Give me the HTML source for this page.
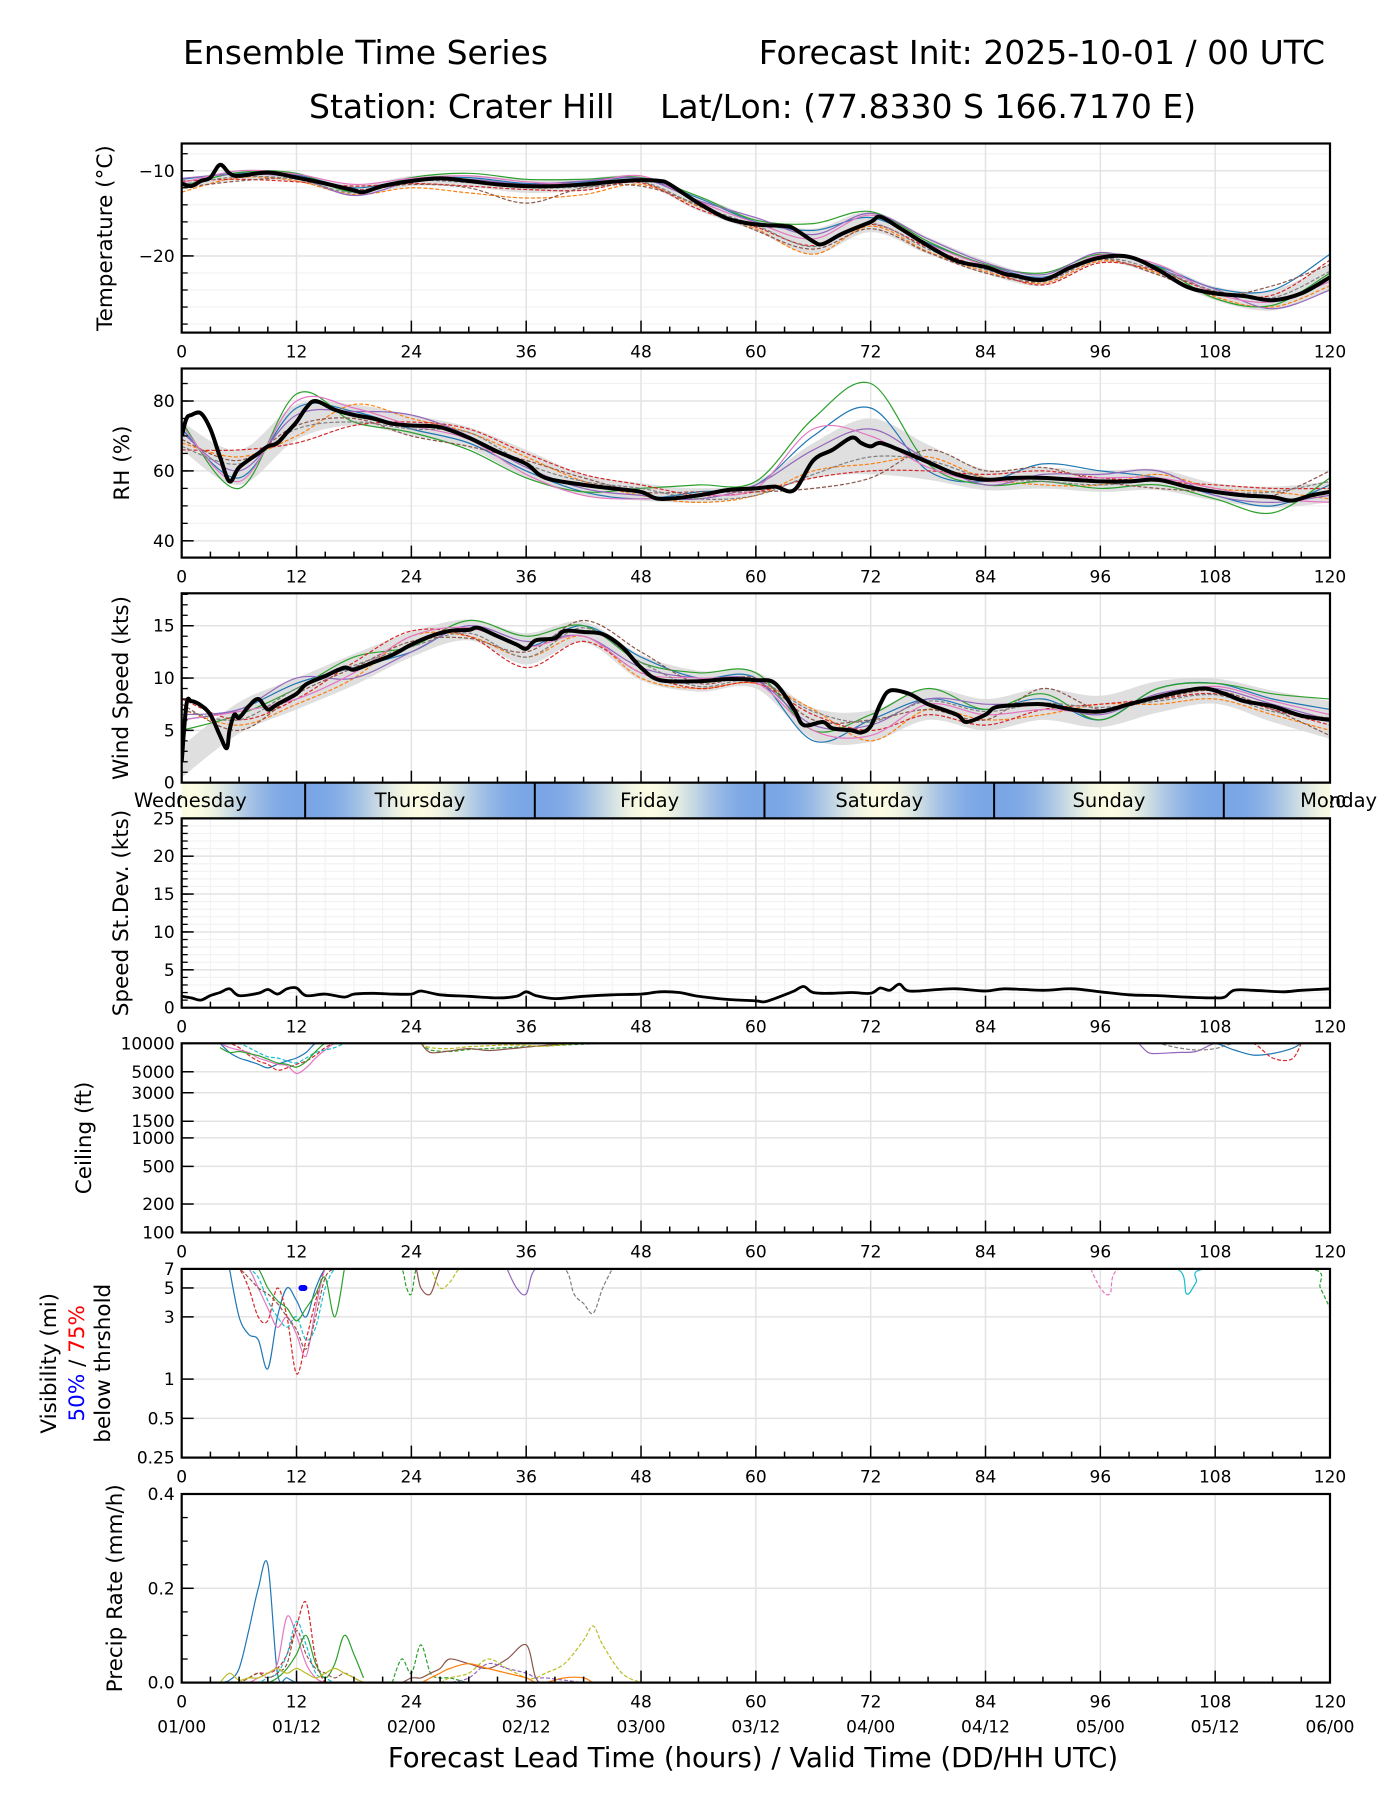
<!DOCTYPE html>
<html><head><meta charset="utf-8"><title>Ensemble Time Series</title>
<style>
html,body{margin:0;padding:0;background:#fff;}
svg{display:block;font-family:"DejaVu Sans","Liberation Sans",sans-serif;}
</style></head>
<body>
<svg id="chart" width="1400" height="1800" viewBox="0 0 1400 1800" xmlns="http://www.w3.org/2000/svg">
<text x="183" y="64" font-size="33">Ensemble Time Series</text>
<text x="1325" y="64" font-size="33" text-anchor="end">Forecast Init: 2025-10-01 / 00 UTC</text>
<text x="309" y="118" font-size="33">Station: Crater Hill</text>
<text x="660" y="118" font-size="33">Lat/Lon: (77.8330 S 166.7170 E)</text>
<text x="753" y="1767" font-size="27.5" text-anchor="middle">Forecast Lead Time (hours) / Valid Time (DD/HH UTC)</text>
</svg>
<script>
// ---------- data ----------
const xTickHours = [0,12,24,36,48,60,72,84,96,108,120];
const dateLabels = ["01/00","01/12","02/00","02/12","03/00","03/12","04/00","04/12","05/00","05/12","06/00"];
const dayNames = ["Wednesday","Thursday","Friday","Saturday","Sunday","Monday"];
const dayBoundaryHours = [12.9,36.9,60.9,84.9,108.9];
const memberColors = ["#1f77b4","#ff7f0e","#2ca02c","#d62728","#9467bd","#8c564b","#e377c2","#7f7f7f","#bcbd22","#17becf"];

const hours6 = [0,6,12,18,24,30,36,42,48,54,60,66,72,78,84,90,96,102,108,114,120];

const tempMeanT = [0,1,2,3,4,5,6,9,12,15,18,19,21,24,27,30,33,36,39,42,45,48,50,51,54,57,60,63,64,66,67,69,72,73,75,78,81,84,86,87,90,93,96,99,102,105,108,111,114,117,120];
const tempMeanV = [-11.5,-11.8,-11.2,-10.8,-9.3,-10.3,-10.6,-10.2,-10.8,-11.5,-12.3,-12.5,-11.8,-11.2,-10.9,-11.2,-11.6,-11.8,-11.8,-11.6,-11.3,-11.1,-11.2,-11.6,-13.8,-15.6,-16.3,-16.5,-16.8,-18.3,-18.6,-17.4,-16.0,-15.4,-16.7,-18.8,-20.6,-21.3,-22.1,-22.3,-22.8,-21.3,-20.2,-20.1,-21.6,-23.6,-24.4,-24.7,-25.2,-24.4,-22.5];
const tempSpread = [0.6,0.5,0.5,0.6,0.6,0.7,0.8,0.7,0.5,0.9,0.8,1.5,1.2,1.0,0.8,0.7,0.6,0.7,0.8,1.2,1.6];
const tempMembers = [
 [-11,-10.3,-10.5,-12,-11,-10.8,-11.5,-11.3,-10.9,-13.2,-16,-17,-15.5,-18.5,-21,-22.5,-20,-21.2,-23.8,-24,-19.8],
 [-12.5,-10.8,-11.2,-12.8,-12,-12.6,-13.2,-12.8,-11.6,-14.2,-16.8,-19.8,-16.5,-19.5,-21.8,-23.2,-20.6,-22,-24.8,-26,-23.5],
 [-11.8,-10.2,-10.3,-12.5,-10.8,-10.3,-11,-11,-10.8,-13,-15.8,-16.2,-14.8,-18.3,-21,-22,-19.8,-21.3,-25,-25.8,-22],
 [-11.2,-11,-11.3,-11.8,-11.5,-11.8,-12.2,-12.3,-11.4,-14.5,-16.6,-18.8,-16.3,-19,-21.5,-23.4,-20.8,-21.8,-24.2,-24.6,-20.5],
 [-10.9,-10.4,-10.8,-12.9,-11.3,-11,-11.6,-11.2,-10.9,-13.5,-15.5,-17.5,-15,-18,-20.8,-22.2,-19.6,-21.5,-23.9,-26.2,-24],
 [-12,-11.2,-10.9,-12.2,-11.6,-12,-13.8,-12,-11.8,-14,-17,-19.2,-16.8,-19.6,-22,-23,-20.4,-22.2,-24.6,-23.5,-21],
 [-11.4,-10,-10.4,-11.6,-10.9,-10.6,-11.3,-11.5,-10.6,-13.6,-16.1,-18,-15.2,-18.6,-21.1,-22.6,-19.9,-21,-24.4,-25.4,-23],
 [-11.6,-10.7,-11,-12.6,-11.2,-11.4,-12,-11.9,-11.3,-14.1,-16.4,-18.9,-16.2,-19.2,-21.6,-22.9,-20.3,-21.7,-24.1,-24.9,-21.8]
];

const rhMeanT = [0,0.5,1,2,3,4,5,6,8,9,10,11,12,13,14,16,18,20,22,24,27,30,33,36,38,42,45,48,50,54,57,60,62,64,66,68,70,71,72,73,75,78,81,84,87,90,93,96,99,102,105,108,111,114,116,118,120];
const rhMeanV = [70,75,76,76.5,72,64,57,61,65,67,68,71,74,78,80,77.5,76,75,73.5,73,72.5,69.5,65.5,62,58,56,55,54,52,53,54.5,55,55.5,54.5,63,66,69.5,68,67,68,66,62.5,59,57.5,58,58,57.5,57,57,57.5,55.5,54,53,52.5,51.5,53,54];
const rhSpread = [4,5,5,3,3,3,4,3,2.5,2,2,5,8,5,3,3,3,3,2.5,3,3];
const rhMembers = [
 [72,58,78,77,72,68,60,54,52,54,56,70,78,60,57,62,60,58,53,50,56],
 [68,64,70,79,75,71,64,57,53,51,53,60,62,64,58,56,56,59,55,54,52],
 [74,55,82,74,71,66,58,54,55,56,57,75,85,62,56,57,55,56,52,48,58],
 [66,66,68,73,74,72,65,59,56,53,54,58,60,60,59,60,58,57,56,55,55],
 [71,60,76,77,76,70,61,55,53,52,56,66,72,63,56,59,59,60,53,51,53],
 [69,63,73,75,70,67,63,58,54,54,54,55,58,66,60,61,57,55,54,53,60],
 [73,57,80,78,73,69,59,53,52,53,55,72,70,61,57,58,58,58,55,52,51],
 [67,62,72,74,72,71,62,57,55,52,53,59,64,63,58,57,56,57,54,54,57]
];

const windMeanT = [0,0.5,1,2,3,4,4.7,5,5.5,6,7,8,9,10,12,13,15,17,18,20,22,24,26,28,30,31,33,35,36,37,39,40,42,44,46,48,50,54,57,60,62,64,65,67,68,70,71,72,73,74,76,78,81,82,84,85,87,90,93,96,99,102,105,107,109,111,114,117,120];
const windMeanV = [2,7.5,7.8,7.4,6.5,4.5,3.3,5,6.5,6.2,7.3,8,7,7.5,8.5,9.4,10.2,11,10.8,11.5,12.2,13.2,14,14.5,14.6,14.8,14,13.2,12.8,13.6,13.8,14.5,14.4,14.2,13,11,9.8,9.7,9.9,9.8,9.5,7,5.5,5.8,5.2,5,4.8,5.4,7.5,8.8,8.5,7.5,6.5,5.8,6.5,7.2,7.4,7.5,7,6.8,7.5,8.2,8.8,9,8.5,7.8,7.3,6.4,6];
const windSpread = [1.5,1.5,1.5,1.5,1.2,1,1.5,1,1.2,1,0.8,1.5,1.5,1.5,1.5,1.5,1.5,1.5,1.2,1.5,1.8];
const windMembers = [
 [6,7,9.5,11,12.5,15,13,15,12,10,10,4,6,8,7,8,6,9,9.5,8,7],
 [7,5.5,7.5,10,14,14,12,14,10,9,9.5,7,4,7,6,6.5,7.5,7.5,8,6.5,5],
 [5,6.5,9,12,13,15.5,14,15,11.5,10.5,10.5,5,6.5,9,7,8.5,6,9,9.5,8.5,8],
 [8,6,8,11.5,14.5,14,11,13.5,10.5,9,9.5,6.5,5,6.5,5.5,7,7.5,8,8.5,7,5.5],
 [6.5,7,10,10,12.5,15,13.5,14,11,10,9.8,5.5,5.5,8,7.5,7.5,6.5,8.5,9,7.5,6],
 [7.5,5,8.5,11,13.5,13.8,12.5,15.5,12.5,9.5,10,6,6,7,6,9,7,8,8.8,7,4.5],
 [6,6.8,8,10.5,14,14.8,13,14,10.5,10,9.6,5,4.5,7.5,6.5,7,6.8,8.2,9.2,7.8,6.5],
 [7,6,9,11.2,13,14.3,12,14.8,11.5,9.2,9.8,6.8,5.8,7.8,6.8,7.6,7.2,7.8,8.4,6.8,6.2]
];

const sdT = [0,1,2,3,4,5,6,8,9,10,11,12,13,15,17,18,20,22,24,25,27,30,33,35,36,37,39,42,45,48,50,52,54,57,60,61,63,64,65,66,68,70,72,73,74,75,76,79,81,84,86,90,93,96,99,102,105,108,109,110,112,115,117,120];
const sdV = [1.5,1.3,1.0,1.6,2.0,2.5,1.6,1.9,2.4,1.8,2.5,2.6,1.6,1.8,1.4,1.8,1.9,1.8,1.8,2.2,1.7,1.5,1.3,1.5,2.1,1.6,1.2,1.5,1.7,1.8,2.1,2.0,1.5,1.1,0.9,0.8,1.7,2.2,2.8,2.0,1.9,2.0,1.9,2.6,2.3,3.1,2.2,2.4,2.5,2.2,2.5,2.3,2.5,2.1,1.7,1.6,1.4,1.3,1.4,2.3,2.3,2.1,2.3,2.5];

const ceilA_T = [4,5,6,7,8,9,10,11,12,13,14,15,16,17];
const ceilA_M = [
 [10000,8000,7000,6500,6000,5500,6000,6500,7000,8000,10000,10000,10000,10000],
 [10000,10000,9000,7500,6500,6000,5200,5500,6000,6500,7500,9000,10000,10000],
 [10000,9000,8500,8000,7000,6500,6000,5800,4800,5500,7000,8500,10000,10000],
 [10000,10000,10000,9000,8000,7200,7000,6500,6200,7000,8000,8500,9000,10000],
 [9000,8000,8200,7800,7400,6800,6200,6000,5600,6400,8200,10000,10000,10000]
];
const ceilB_T = [25,26,28,30,32,34,36,38,40,42,44];
const ceilB_M = [
 [10000,8500,8200,8600,8800,9000,9200,9400,9600,9800,10000],
 [10000,8000,8300,8800,8400,8700,9100,9500,9800,10000,10000],
 [10000,9000,8800,9200,9400,9600,9500,9300,9700,10000,10000]
];
const ceilC_T = [100,101,102,104,106,108,110,112,114,116,117];
const ceilC_M = [
 [10000,8000,7800,8000,8200,10000,10000,10000,10000,10000,10000],
 [10000,10000,10000,9000,8500,8800,10000,10000,10000,10000,10000],
 [10000,10000,10000,10000,10000,10000,8500,7500,7800,8800,10000],
 [10000,10000,10000,10000,10000,10000,10000,10000,7000,6800,10000]
];

const visA_T = [5,6,7,8,9,10,11,12,13,14,15,16,17];
const visA_M = [
 [7,3,2.2,2,1.2,3,5,4,3,5,7,7,7],
 [7,7,5,3,2.8,5,3,1.1,2,4,7,7,7],
 [7,7,7,5,3.5,2.5,3,2.2,1.5,3.5,7,7,7],
 [7,7,7,6,4,3,2.5,3,2,2.5,5,7,7],
 [7,7,7,7,5,4,3.5,2.8,3.5,4.5,6,3,7],
 [7,7,6,5,4.5,3.8,3,2.4,1.7,3,6,7,7]
];
const visB_T = [22,23,23.5,24,24.5,25,26,27,28,29,30];
const visB_M = [
 [7,7,5,4.5,7,7,7,7,7,7,7],
 [7,7,7,7,7,5,4.5,7,7,7,7],
 [7,7,7,7,7,7,7,5,5.5,7,7]
];
const visC_T = [34,35,36,37,40,41,42,43,44,45];
const visC_M = [
 [7,5,4.5,7,7,7,7,7,7,7],
 [7,7,7,7,7,4.5,3.8,3.2,5,7]
];
const visD_T = [95,96,97,98,104,105,106,107,118,119,120];
const visD_M = [
 [7,5,4.5,7,7,7,7,7,7,7,7],
 [7,7,7,7,7,4.5,5.5,7,7,7,7],
 [7,7,7,7,7,7,7,7,7,5,3.5]
];

const precA_T = [4,5,6,7,8,9,10,11,12,13,14,15,16,17,18,19];
const precA_M = [
 [0,0.005,0.03,0.11,0.2,0.25,0.02,0.01,0,0,0,0,0,0,0,0],
 [0,0,0,0.01,0.02,0.02,0.03,0.06,0.12,0.17,0.05,0,0,0,0,0],
 [0,0,0,0,0.01,0.02,0.04,0.14,0.1,0.04,0.01,0,0,0,0,0],
 [0,0,0,0,0,0.01,0.02,0.06,0.13,0.08,0.02,0.01,0,0,0,0],
 [0,0,0,0,0,0,0.01,0.03,0.06,0.1,0.04,0.01,0.04,0.1,0.06,0.01],
 [0,0,0,0.01,0.02,0.01,0.02,0.04,0.11,0.06,0.03,0.02,0.01,0.02,0.01,0],
 [0,0.02,0.005,0.01,0.01,0.02,0.03,0.02,0.03,0.02,0.01,0.02,0.03,0.02,0.01,0]
];
const precB_T = [22,23,24,25,26,27,28,30,32,34,36,37,38,40,42,43,44,46,48];
const precB_M = [
 [0,0.05,0.02,0.08,0.02,0.01,0.01,0,0,0,0,0,0,0,0,0,0,0,0],
 [0,0,0.01,0.01,0.02,0.03,0.05,0.04,0.03,0.05,0.08,0.01,0,0,0,0,0,0,0],
 [0,0,0,0,0,0,0.01,0.02,0.05,0.03,0.01,0.01,0.02,0.04,0.09,0.12,0.08,0.02,0],
 [0,0,0,0,0.01,0.02,0.03,0.04,0.03,0.02,0.01,0,0,0.01,0.01,0,0,0,0],
 [0,0,0,0,0,0,0,0.01,0.04,0.03,0.02,0.01,0.01,0.005,0,0,0,0,0]
];

// ---------- layout ----------
const svg = document.getElementById('chart');
const NS = 'http://www.w3.org/2000/svg';
const L = 181.7, R = 1330, W = R - L;
const xs = h => L + h / 120 * W;

function mk(tag, attrs, parent) {
  const el = document.createElementNS(NS, tag);
  for (const k in attrs) el.setAttribute(k, attrs[k]);
  (parent || svg).appendChild(el);
  return el;
}
function smoothPath(pts) {
  if (pts.length < 2) return '';
  let d = 'M' + pts[0][0].toFixed(1) + ',' + pts[0][1].toFixed(1);
  for (let i = 0; i < pts.length - 1; i++) {
    const p0 = pts[i - 1] || pts[i], p1 = pts[i], p2 = pts[i + 1], p3 = pts[i + 2] || p2;
    const c1x = p1[0] + (p2[0] - p0[0]) / 6, c1y = p1[1] + (p2[1] - p0[1]) / 6;
    const c2x = p2[0] - (p3[0] - p1[0]) / 6, c2y = p2[1] - (p3[1] - p1[1]) / 6;
    d += 'C' + c1x.toFixed(1) + ',' + c1y.toFixed(1) + ' ' + c2x.toFixed(1) + ',' + c2y.toFixed(1) + ' ' + p2[0].toFixed(1) + ',' + p2[1].toFixed(1);
  }
  return d;
}

let clipCount = 0;
function makePanel(cfg) {
  const top = cfg.top, bot = cfg.bottom, H = bot - top;
  const ys = cfg.log
    ? v => bot - (Math.log10(Math.max(v, 1e-9)) - Math.log10(cfg.min)) / (Math.log10(cfg.max) - Math.log10(cfg.min)) * H
    : v => bot - (v - cfg.min) / (cfg.max - cfg.min) * H;
  const g = mk('g', {});
  
  
  const cid = 'clip' + (clipCount++);
  const cp = mk('clipPath', { id: cid }, g);
  mk('rect', { x: L, y: top, width: W, height: H }, cp);
  (cfg.minorGrid || []).forEach(v => {
    mk('line', { x1: L, x2: R, y1: ys(v), y2: ys(v), stroke: '#f2f2f2', 'stroke-width': 1.2 }, g);
  });
  if (cfg.minorX) for (let h = 3; h < 120; h += 3) if (h % 12) {
    mk('line', { x1: xs(h), x2: xs(h), y1: top, y2: bot, stroke: '#f2f2f2', 'stroke-width': 1.2 }, g);
  }
  cfg.ticks.forEach(v => {
    mk('line', { x1: L, x2: R, y1: ys(v), y2: ys(v), stroke: '#e3e3e3', 'stroke-width': 1.5 }, g);
  });
  xTickHours.forEach(h => {
    mk('line', { x1: xs(h), x2: xs(h), y1: top, y2: bot, stroke: '#e3e3e3', 'stroke-width': 1.5 }, g);
  });
  const plot = mk('g', { 'clip-path': 'url(#' + cid + ')' }, g);
  
  
  if (cfg.spread) {
    const up = hours6.map((h, i) => [xs(h), ys(cfg.bandMean(h) + cfg.spread[i])]);
    const lo = hours6.map((h, i) => [xs(h), ys(cfg.bandMean(h) - cfg.spread[i])]).reverse();
    const band = mk('path', { d: smoothPath(up) + 'L' + smoothPath(lo).slice(1) + 'Z', fill: '#d9d9d9', opacity: 0.85 }, plot);
    
    
  }
  (cfg.members || []).forEach((m, i) => {
    const p = mk('path', { d: smoothPath(m.map((v, j) => [xs(hours6[j]), ys(v)])), fill: 'none', stroke: memberColors[i % 10], 'stroke-width': 1.2, 'stroke-dasharray': i % 2 ? '4,2' : 'none' }, plot);
    
    
  });
  (cfg.episodes || []).forEach((ep, k) => {
    ep.m.forEach((m, i) => {
      const ci = (i * 3 + k * 2) % 10;
      const p = mk('path', { d: smoothPath(m.map((v, j) => [xs(ep.t[j]), ys(v)])), fill: 'none', stroke: memberColors[ci], 'stroke-width': 1.2, 'stroke-dasharray': (i + k) % 2 ? '4,2' : 'none' }, plot);
      
      
    });
  });
  if (cfg.meanT) {
    const p = mk('path', { d: smoothPath(cfg.meanT.map((h, i) => [xs(h), ys(cfg.meanV[i])])), fill: 'none', stroke: '#000', 'stroke-width': cfg.meanWidth || 4, 'stroke-linejoin': 'round' }, plot);
    
    
  }
  const fr = mk('rect', { x: L, y: top, width: W, height: H, fill: 'none', stroke: '#000', 'stroke-width': 2.2 }, g);
  
  
  for (let h = 0; h <= 120; h += 3) {
    const len = h % 12 ? 6 : 12;
    mk('line', { x1: xs(h), x2: xs(h), y1: bot, y2: bot - len, stroke: '#000', 'stroke-width': 1.5 }, g);
  }
  xTickHours.forEach((h, i) => {
    const t = mk('text', { x: xs(h), y: bot + 25, 'font-size': 17, 'text-anchor': 'middle' }, g);
    t.textContent = h;
    
    
    if (cfg.dates) {
      const d = mk('text', { x: xs(h), y: bot + 50, 'font-size': 17, 'text-anchor': 'middle' }, g);
      d.textContent = dateLabels[i];
      
      
    }
  });
  (cfg.minorTicks || []).forEach(v => {
    mk('line', { x1: L, x2: L + 6, y1: ys(v), y2: ys(v), stroke: '#000', 'stroke-width': 1.3 }, g);
  });
  cfg.ticks.forEach((v, i) => {
    mk('line', { x1: L, x2: L + 12, y1: ys(v), y2: ys(v), stroke: '#000', 'stroke-width': 1.5 }, g);
    const t = mk('text', { x: L - 7, y: ys(v) + 6, 'font-size': 17, 'text-anchor': 'end' }, g);
    t.textContent = cfg.tickLabels ? cfg.tickLabels[i] : (v < 0 ? '\u2212' + (-v) : v);
    
    
  });
  if (cfg.title) {
    const cx = cfg.titleX, cy = (top + bot) / 2;
    const t = mk('text', { x: cx, y: cy, 'font-size': 21.5, 'text-anchor': 'middle', transform: 'rotate(-90 ' + cx + ' ' + cy + ')', 'dominant-baseline': 'middle' }, g);
    t.textContent = cfg.title;
    
    
  }
  return { ys, g, top, bot };
}
const range = (a, b, s) => { const r = []; for (let v = a; v <= b + 1e-9; v += s) r.push(+v.toFixed(3)); return r; };
const interpMean = (T, V) => h => { for (let i = 0; i < T.length - 1; i++) if (h <= T[i + 1]) { const f = (h - T[i]) / (T[i + 1] - T[i]); return V[i] + f * (V[i + 1] - V[i]); } return V[V.length - 1]; };

makePanel({ name: 'temperature', top: 143.5, bottom: 332.6, min: -29, max: -6.8, ticks: [-20, -10], minorTicks: range(-28, -8, 2), minorGrid: range(-28, -8, 2),
  title: 'Temperature (\u00b0C)', titleX: 106, meanT: tempMeanT, meanV: tempMeanV, members: tempMembers, spread: tempSpread, bandMean: interpMean(tempMeanT, tempMeanV) });
makePanel({ name: 'rh', top: 368.5, bottom: 557.6, min: 35.2, max: 89.3, ticks: [40, 60, 80], minorTicks: range(40, 85, 5), minorGrid: range(45, 85, 5),
  title: 'RH (%)', titleX: 123, meanT: rhMeanT, meanV: rhMeanV, members: rhMembers, spread: rhSpread, bandMean: interpMean(rhMeanT, rhMeanV) });
makePanel({ name: 'wind-speed', top: 593.3, bottom: 782.7, min: 0, max: 18.1, ticks: [0, 5, 10, 15], minorTicks: range(1, 18, 1),
  title: 'Wind Speed (kts)', titleX: 122, meanT: windMeanT, meanV: windMeanV, members: windMembers, spread: windSpread, bandMean: interpMean(windMeanT, windMeanV) });
makePanel({ name: 'speed-stdev', top: 818.3, bottom: 1007.7, min: 0, max: 25, ticks: [0, 5, 10, 15, 20, 25], minorTicks: range(1, 24, 1), minorGrid: range(1, 24, 1), minorX: true,
  title: 'Speed St.Dev. (kts)', titleX: 122, meanT: sdT, meanV: sdV, meanWidth: 2.8 });
makePanel({ name: 'ceiling', top: 1043.3, bottom: 1232.5, min: 100, max: 10000, log: true, ticks: [100, 200, 500, 1000, 1500, 3000, 5000, 10000],
  title: 'Ceiling (ft)', titleX: 85, episodes: [{ t: ceilA_T, m: ceilA_M }, { t: ceilB_T, m: ceilB_M }, { t: ceilC_T, m: ceilC_M }] });
const vis = makePanel({ name: 'visibility', top: 1268.9, bottom: 1457.6, min: 0.25, max: 7, log: true, ticks: [0.25, 0.5, 1, 3, 5, 7],
  episodes: [{ t: visA_T, m: visA_M }, { t: visB_T, m: visB_M }, { t: visC_T, m: visC_M }, { t: visD_T, m: visD_M }] });
makePanel({ name: 'precip-rate', top: 1494, bottom: 1682.6, min: 0, max: 0.4, ticks: [0, 0.2, 0.4], tickLabels: ['0.0', '0.2', '0.4'], minorTicks: range(0.05, 0.35, 0.05),
  title: 'Precip Rate (mm/h)', titleX: 116, dates: true, episodes: [{ t: precA_T, m: precA_M }, { t: precB_T, m: precB_M }] });

const vm = mk('rect', { x: xs(12.2), y: vis.ys(5) - 3, width: 9, height: 6, rx: 3, fill: '#0000ff' });



const vcy = (1268.9 + 1457.6) / 2;
const vt1 = mk('text', { x: 50, y: vcy, 'font-size': 21.5, 'text-anchor': 'middle', 'dominant-baseline': 'middle', transform: 'rotate(-90 50 ' + vcy + ')' });
vt1.textContent = 'Visibility (mi)';


const vt2 = mk('text', { x: 78, y: vcy, 'font-size': 21.5, 'text-anchor': 'middle', 'dominant-baseline': 'middle', transform: 'rotate(-90 78 ' + vcy + ')' });
vt2.innerHTML = '<tspan fill="#0000ff">50%</tspan> / <tspan fill="#ff0000">75%</tspan>';


const vt3 = mk('text', { x: 104, y: vcy, 'font-size': 21.5, 'text-anchor': 'middle', 'dominant-baseline': 'middle', transform: 'rotate(-90 104 ' + vcy + ')' });
vt3.textContent = 'below thrshold';



const defs = mk('defs', {});
const grad = mk('linearGradient', { id: 'dayGrad', x1: 0, x2: 1, y1: 0, y2: 0 }, defs);
for (let h = 0; h <= 120; h += 1) {
  const f = (1 - Math.cos(2 * Math.PI * (h - 12.9) / 24)) / 2;
  const k = Math.pow(f, 1.4);
  const r = Math.round(122 + k * (252 - 122)), gg = Math.round(166 + k * (252 - 166)), b = Math.round(230 + k * (226 - 230));
  mk('stop', { offset: (h / 120).toFixed(4), 'stop-color': 'rgb(' + r + ',' + gg + ',' + b + ')' }, grad);
}
const bar = mk('rect', { x: L, y: 782.7, width: W, height: 35.6, fill: 'url(#dayGrad)' });


dayBoundaryHours.forEach(h => {
  const l = mk('line', { x1: xs(h), x2: xs(h), y1: 782.7, y2: 818.3, stroke: '#000', 'stroke-width': 2 });
  
  
});
dayNames.forEach((n, i) => {
  const t = mk('text', { x: xs(0.9 + 24 * i), y: 807, 'font-size': 19.5, 'text-anchor': 'middle' });
  t.textContent = n;
  
  
});
mk('line', { x1: L, x2: R, y1: 782.7, y2: 782.7, stroke: '#000', 'stroke-width': 2.2 });
mk('line', { x1: L, x2: R, y1: 818.3, y2: 818.3, stroke: '#000', 'stroke-width': 2.2 });
</script>
</body></html>
